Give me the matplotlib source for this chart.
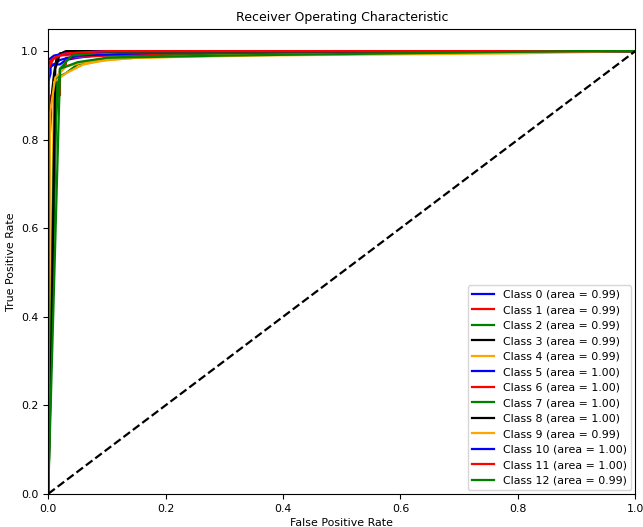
import numpy as np
import matplotlib.pyplot as plt

plt.rcParams['font.size'] = 7.9

colors = ['blue', 'red', 'green', 'black', 'orange']

# per-class ROC points (fpr, tpr)
fpr = [
    [0, 0, 0.004, 0.004, 0.02, 0.03, 0.05, 0.08, 0.15, 0.4, 1],            # 0
    [0, 0, 0.005, 0.005, 0.02, 0.02, 0.03, 0.03, 0.1, 0.3, 1],             # 1
    [0, 0.015, 0.03, 0.05, 0.1, 0.2, 0.5, 0.85, 1],                        # 2
    [0, 0.002, 0.01, 0.015, 0.03, 0.1, 1],                                 # 3
    [0, 0.01, 0.03, 0.06, 0.1, 0.15, 0.3, 0.6, 1],                         # 4
    [0, 0, 0.01, 0.02, 0.05, 0.2, 1],                                      # 5
    [0, 0, 0.005, 0.02, 0.08, 1],                                          # 6
    [0, 0.01, 0.02, 0.04, 0.1, 1],                                         # 7
    [0, 0.005, 0.012, 0.02, 0.05, 1],                                      # 8
    [0, 0.003, 0.012, 0.03, 0.06, 0.15, 0.35, 0.8, 1],                     # 9
    [0, 0, 0.01, 0.03, 0.1, 1],                                            # 10
    [0, 0, 0.01, 0.03, 0.1, 1],                                            # 11
    [0, 0.02, 0.02, 0.05, 0.1, 0.3, 0.6, 0.9, 1],                          # 12
]
tpr = [
    [0, 0.93, 0.95, 0.97, 0.97, 0.98, 0.985, 0.99, 0.993, 0.996, 1],
    [0, 0.75, 0.86, 0.9, 0.9, 0.96, 0.97, 0.985, 0.99, 0.995, 1],
    [0, 0.94, 0.95, 0.97, 0.985, 0.99, 0.993, 1, 1],
    [0, 0.85, 0.95, 0.99, 1, 1, 1],
    [0, 0.93, 0.95, 0.97, 0.98, 0.985, 0.99, 0.995, 1],
    [0, 0.96, 0.97, 0.98, 0.99, 0.997, 1],
    [0, 0.97, 0.98, 0.99, 0.997, 1],
    [0, 0.8, 0.96, 0.99, 0.998, 1],
    [0, 0.3, 0.96, 0.995, 1, 1],
    [0, 0.86, 0.94, 0.965, 0.975, 0.985, 0.99, 0.995, 1],
    [0, 0.98, 0.99, 0.995, 1, 1],
    [0, 0.96, 0.985, 0.995, 1, 1],
    [0, 0.95, 0.96, 0.975, 0.985, 0.99, 0.995, 1, 1],
]
areas = [0.99, 0.99, 0.99, 0.99, 0.99, 1.00, 1.00, 1.00, 1.00, 0.99, 1.00, 1.00, 0.99]

fig, ax = plt.subplots(figsize=(6.43, 5.27), dpi=100)
for i in range(len(areas)):
    ax.plot(fpr[i], tpr[i], color=colors[i % 5], lw=1.6,
            label='Class {0} (area = {1:0.2f})'.format(i, areas[i]))
ax.plot([0, 1], [0, 1], 'k--', lw=1.6)
ax.set_xlim([0.0, 1.0])
ax.set_ylim([0.0, 1.05])
ax.set_xlabel('False Positive Rate', labelpad=3)
ax.set_ylabel('True Positive Rate')
ax.set_title('Receiver Operating Characteristic', fontsize=9)
ax.legend(loc='lower right', borderaxespad=0.35)
fig.subplots_adjust(left=0.075, right=0.988, top=0.945, bottom=0.063)
fig.savefig('out.png')
